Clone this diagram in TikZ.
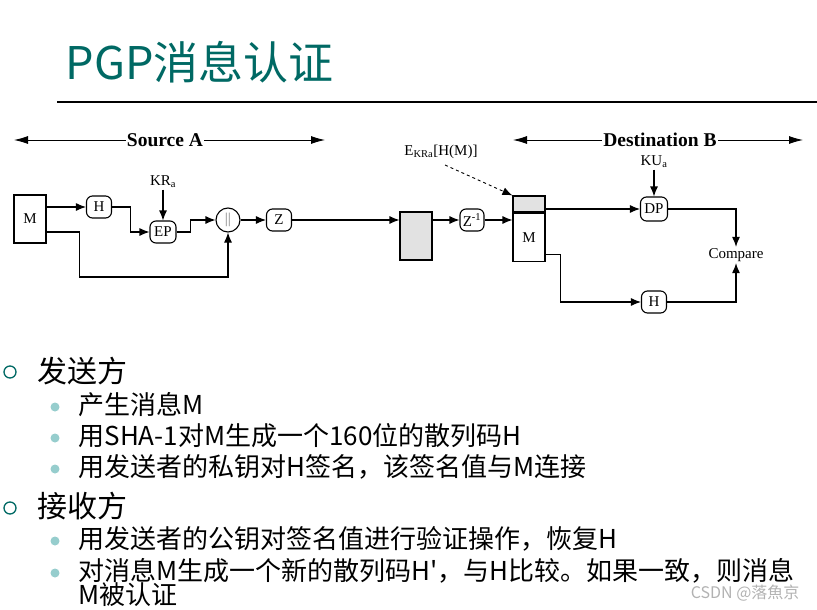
\documentclass[tikz,border=0pt]{standalone}
\usepackage{fontspec}
\setmainfont{Liberation Serif}
\newfontfamily\cjk{Noto Sans CJK SC}
\usepackage{xcolor}
\usepackage{tikz}
\usetikzlibrary{positioning,arrows.meta}

\definecolor{pgpteal}{RGB}{0,105,100}
\definecolor{dotteal}{RGB}{150,205,205}
\definecolor{boxgray}{RGB}{226,226,226}

\begin{document}
\begin{tikzpicture}[x=1pt, y=-1pt, line width=1.1pt,
		arr/.style={-{Latex[length=10pt,width=8pt]}},
		span/.style={{Latex[length=14pt,width=8pt]}-{Latex[length=14pt,width=8pt]}, line width=0.9pt},
		op/.style={draw, rounded corners=6pt, minimum width=25pt, minimum height=22pt, inner sep=1pt, font=\fontsize{15}{15}\selectfont},
		blk/.style={draw, minimum width=32pt, inner sep=0pt, font=\fontsize{15}{15}\selectfont},
		lbl/.style={inner sep=1pt, font=\fontsize{15}{15}\selectfont},
		head/.style={anchor=west, inner sep=0pt, text height=26pt, text depth=4pt, font=\cjk\fontsize{30}{30}\selectfont},
		sub/.style={anchor=west, inner sep=0pt, text height=20pt, text depth=3pt, font=\cjk\fontsize{26}{26}\selectfont}]
	\useasboundingbox (0,0) rectangle (817,610);

	% title
	\node[anchor=base west, inner sep=0pt, text=pgpteal, font=\cjk\fontsize{45}{45}\selectfont] (title) at (65,80) {PGP消息认证};
	\coordinate (rule-l) at (57,102);
	\coordinate (rule-r) at (817,102);
	\draw[line width=1.4pt] (rule-l) -- (rule-r);

	% source side
	\coordinate (sa-l) at (14,140);
	\coordinate (sa-r) at (325,140);
	\draw[span] (sa-l) -- (sa-r);
	\node[fill=white, inner sep=1pt, font=\bfseries\fontsize{19.5}{19.5}\selectfont] (srcA) at (165,140) {Source A};

	\node[blk, minimum height=48pt] (m) at (30,219) {M};
	\node[op] (h) at (99,207) {H};
	\node[op, minimum width=26pt] (ep) at (163,232) {EP};
	\node[lbl] (kra) at (163,182) {KR\textsubscript{a}};
	\node[op, circle, rounded corners=0pt, minimum size=24pt, text=gray] (cat) at (228,220) {||};
	\node[op] (z) at (279,220) {Z};
	\node[blk, minimum height=48pt, fill=boxgray] (zip) at (416,236) {};

	\draw[arr] (m.east |- h) -- (h);
	\draw[arr] (h.east) -- ++(18,0) |- (ep.west);
	\draw[arr] (kra) -- (ep);
	\draw[arr] (ep.east) -- ++(14,0) |- (cat.west);
	\draw[arr] (m.east |- ep) -- ++(33,0) -- ++(0,45) -| (cat.south);
	\draw[arr] (cat) -- (z);
	\draw[arr] (z) -- (zip.west |- z);

	% destination side
	\coordinate (db-l) at (513,140);
	\coordinate (db-r) at (803,140);
	\draw[span] (db-l) -- (db-r);
	\node[fill=white, inner sep=1pt, font=\bfseries\fontsize{19.5}{19.5}\selectfont] (dstB) at (660,140) {Destination B};

	\node[op, minimum width=24pt] (unz) at (472,220) {Z\textsuperscript{-1}};
	\node[blk, minimum height=16pt, fill=boxgray] (sig) at (529,204) {};
	\node[blk, minimum height=48pt, below=0pt of sig] (rx) {M};
	\draw[line width=2pt] (sig.south west) -- (sig.south east);
	\node[lbl, anchor=base] (ekra) at (441,155) {E\textsubscript{KRa}[H(M)]};
	\coordinate (ekra-tail) at (445,165);
	\draw[arr, dashed, line width=0.9pt] (ekra-tail) -- (sig.north west);

	\node[op, minimum width=27pt, minimum height=24pt] (dp) at (654,209) {DP};
	\node[lbl] (kua) at (654,162) {KU\textsubscript{a}};
	\node[lbl] (cmp) at (736,255) {Compare};
	\node[op] (h2) at (654,302) {H};

	\draw[arr] (zip.east |- unz) -- (unz);
	\draw[arr] (unz) -- (rx.west |- unz);
	\draw[arr] (sig.east |- dp) -- (dp);
	\draw[arr] (kua) -- (dp);
	\draw[arr] (dp.east) -| (cmp.north);
	\draw[arr] ([yshift=-17pt]rx.east) -- ++(15,0) |- (h2);
	\draw[arr] (h2.east) -| (cmp.south);

	% bullet points
	\node[draw=pgpteal, circle, line width=1.3pt, minimum size=12pt, inner sep=0pt] (b1) at (10,372) {};
	\node[head] (t1) at (37,371) {发送方};
	\node[fill=dotteal, circle, minimum size=9pt, inner sep=0pt] (d1) at (55,407) {};
	\node[sub] (s1) at (78,406) {产生消息M};
	\node[fill=dotteal, circle, minimum size=9pt, inner sep=0pt] (d2) at (55,438) {};
	\node[sub] (s2) at (78,437) {用SHA-1对M生成一个160位的散列码H};
	\node[fill=dotteal, circle, minimum size=9pt, inner sep=0pt] (d3) at (55,469) {};
	\node[sub] (s3) at (78,468) {用发送者的私钥对H签名，该签名值与M连接};
	\node[draw=pgpteal, circle, line width=1.3pt, minimum size=12pt, inner sep=0pt] (b2) at (10,508) {};
	\node[head] (t2) at (37,506) {接收方};
	\node[fill=dotteal, circle, minimum size=9pt, inner sep=0pt] (d4) at (55,541) {};
	\node[sub] (s4) at (78,540) {用发送者的公钥对签名值进行验证操作，恢复H};
	\node[fill=dotteal, circle, minimum size=9pt, inner sep=0pt] (d5) at (55,573) {};
	\node[sub] (s5) at (78,572) {对消息M生成一个新的散列码H'，与H比较。如果一致，则消息};
	\node[sub] (s6) at (78,596) {M被认证};

	\node[anchor=east, inner sep=0pt, text height=11pt, text depth=2pt, text=gray!60, font=\cjk\fontsize{16}{16}\selectfont] (mark) at (800,594) {CSDN @落魚京};
\end{tikzpicture}
\end{document}
